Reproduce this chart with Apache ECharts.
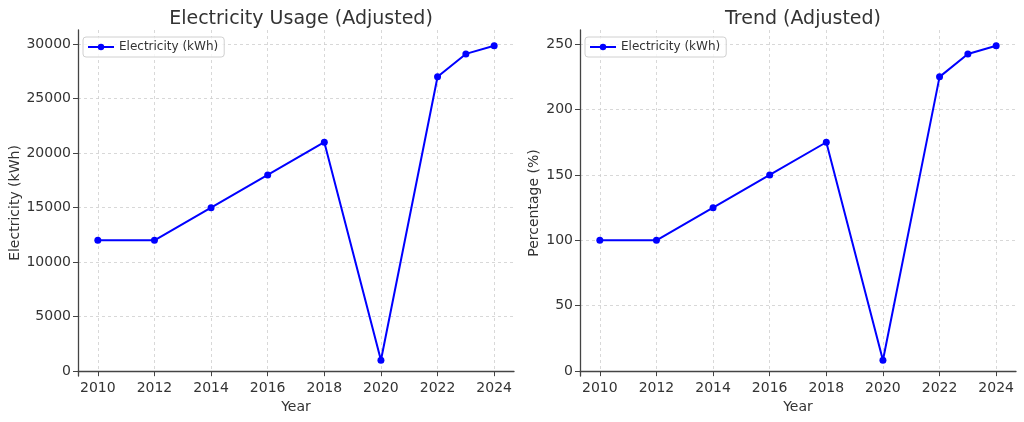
<!DOCTYPE html>
<html>
<head>
<meta charset="utf-8">
<script src="https://cdn.jsdelivr.net/npm/echarts@6/dist/echarts.min.js"></script>
<style>
html,body{margin:0;padding:0;background:#fff;}
#c{width:1024px;height:422px;}
</style>
</head>
<body>
<div id="c"></div>
<script>
const years = [2010, 2012, 2014, 2016, 2018, 2020, 2022, 2023, 2024];
const usageKWh = [12000, 12000, 15000, 18000, 21000, 1000, 27000, 29100, 29850];
const trendPct = [100, 100, 125, 150, 175, 8.3, 225, 242.5, 248.8];
const titles = ['Electricity Usage (Adjusted)', 'Trend (Adjusted)'];
const yNames = ['Electricity (kWh)', 'Percentage (%)'];
const seriesName = 'Electricity (kWh)';

const FONT = 'DejaVu Sans';
const TXT = '#333';

function pairs(xs, ys){ return xs.map((x,i)=>[x, ys[i]]); }
function pad(arr){ const mn=Math.min(...arr), mx=Math.max(...arr), d=(mx-mn)*0.05; return [mn-d, mx+d]; }

const xr = pad(years);
const yr1 = pad(usageKWh);
const yr2 = pad(trendPct);

function xAxis(gi){
  return {
    type:'value', gridIndex:gi, min:xr[0], max:xr[1],
    splitNumber:8, minInterval:2, maxInterval:2,
    name:'Year', nameLocation:'middle', nameGap:21,
    nameTextStyle:{fontFamily:FONT, fontSize:14, color:TXT},
    axisLine:{show:true, lineStyle:{color:'#444', width:1.3}},
    axisTick:{show:true, length:5, lineStyle:{color:'#444'}},
    axisLabel:{fontFamily:FONT, fontSize:14, color:TXT, margin:5, showMinLabel:false, showMaxLabel:false,
      formatter:v=> (Math.abs(v%2)<1e-6 ? String(v) : '')},
    splitLine:{show:true, showMinLine:false, showMaxLine:false, lineStyle:{type:[3,3], color:'#cfcfcf', width:0.8}}
  };
}
function yAxis(gi, rng, name, gap, step, split){
  return {
    type:'value', gridIndex:gi, min:rng[0], max:rng[1],
    splitNumber:split, minInterval:step, maxInterval:step,
    name:name, nameLocation:'middle', nameGap:gap,
    nameTextStyle:{fontFamily:FONT, fontSize:14, color:TXT},
    axisLine:{show:true, lineStyle:{color:'#444', width:1.3}},
    axisTick:{show:true, length:5, lineStyle:{color:'#444'}},
    axisLabel:{fontFamily:FONT, fontSize:14, color:TXT, margin:7, showMinLabel:false, showMaxLabel:false,
      formatter:v=> (Math.abs(v%step)<1e-6 ? String(Math.round(v)) : '')},
    splitLine:{show:true, showMinLine:false, showMaxLine:false, lineStyle:{type:[3,3], color:'#cfcfcf', width:0.8}}
  };
}
function lineSeries(gi, ys){
  return {
    name:seriesName, type:'line', xAxisIndex:gi, yAxisIndex:gi,
    data:pairs(years, ys),
    symbol:'circle', symbolSize:7,
    lineStyle:{color:'#0000ff', width:2},
    itemStyle:{color:'#0000ff'},
    animation:false
  };
}
function legend(left){
  return {
    left:left, top:37, orient:'vertical',
    padding:[4,6,4,4], itemWidth:26, itemHeight:8, itemGap:4,
    backgroundColor:'rgba(255,255,255,0.8)', borderColor:'#d0d0d0', borderWidth:1, borderRadius:3,
    textStyle:{fontFamily:FONT, fontSize:12, color:TXT},
    data:[seriesName]
  };
}

const chart = echarts.init(document.getElementById('c'), null, {renderer:'canvas'});
chart.setOption({
  animation:false,
  backgroundColor:'#fff',
  title:[
    {text:titles[0], left:296, top:5, textAlign:'center', textStyle:{fontFamily:FONT, fontSize:19, fontWeight:'normal', color:TXT}},
    {text:titles[1], left:798, top:5, textAlign:'center', textStyle:{fontFamily:FONT, fontSize:19, fontWeight:'normal', color:TXT}}
  ],
  grid:[
    {left:78, right:510, top:30, bottom:46},
    {left:580, right:8, top:30, bottom:46}
  ],
  legend:[legend(83), legend(585)],
  xAxis:[xAxis(0), xAxis(1)],
  yAxis:[yAxis(0, yr1, yNames[0], 56, 5000, 6), yAxis(1, yr2, yNames[1], 39, 50, 5)],
  series:[lineSeries(0, usageKWh), lineSeries(1, trendPct)]
});
</script>
</body>
</html>
